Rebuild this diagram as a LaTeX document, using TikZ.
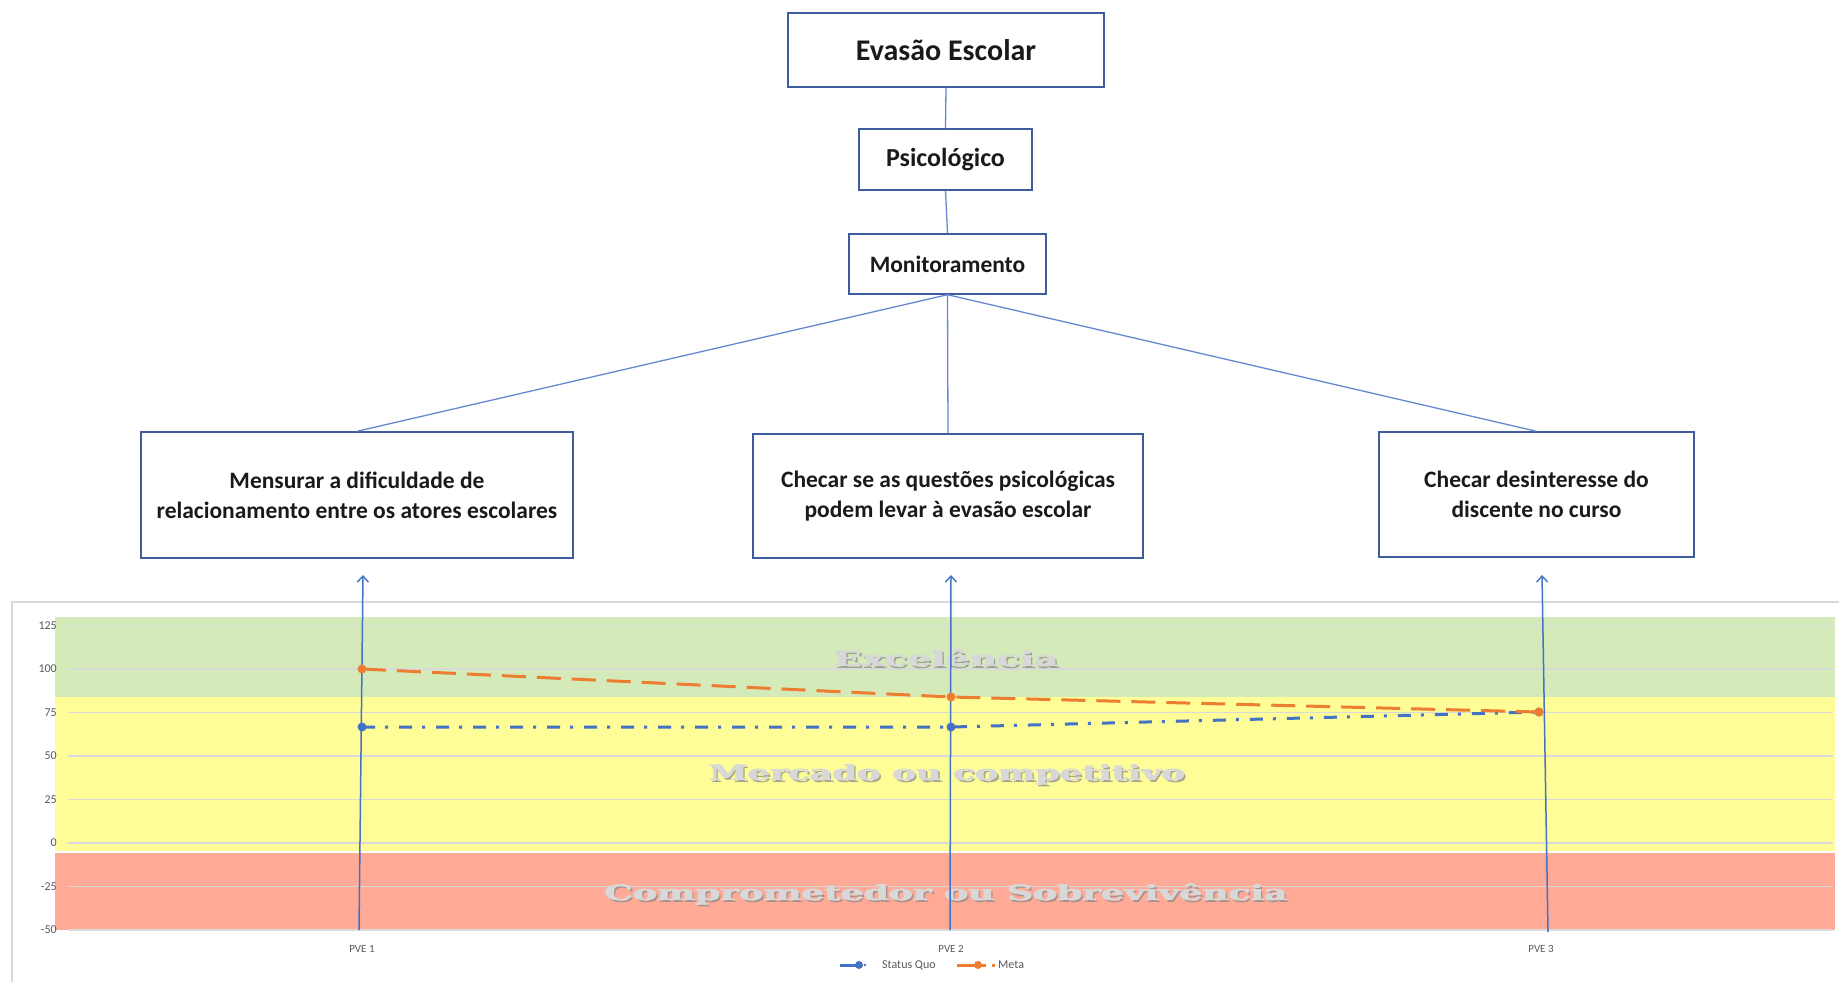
\documentclass[tikz,border=0pt]{standalone}
\usepackage{fontspec}
\setmainfont{Carlito}
\newfontfamily\bandfont{DejaVu Serif}
\usetikzlibrary{arrows.meta}

\definecolor{boxblue}{HTML}{3E5C9E}
\definecolor{linkblue}{HTML}{6688D0}
\definecolor{seriesblue}{HTML}{4472C4}
\definecolor{seriesorange}{HTML}{ED7D31}
\definecolor{gridgray}{HTML}{D9D9D9}
\definecolor{axisgray}{HTML}{595959}
\definecolor{bandgreen}{HTML}{D5EAB9}
\definecolor{bandyellow}{HTML}{FEFD97}
\definecolor{bandred}{HTML}{FEAA97}
\definecolor{inktext}{HTML}{1A1A1A}
\definecolor{embossface}{HTML}{D8D8D8}
\definecolor{embossshade}{HTML}{8A8A8A}

\tikzset{
  treebox/.style={draw=boxblue, line width=1.4pt, fill=white, text=inktext,
    inner sep=0pt, align=center},
  goalbox/.style={treebox, font=\fontsize{23.5pt}{30pt}\selectfont\bfseries},
  link/.style={draw=linkblue, line width=1.3pt},
  uparrow/.style={draw=seriesblue, line width=1.5pt,
    -{Straight Barb[length=6pt,width=11pt,line width=1.4pt]}},
  gridline/.style={draw=gridgray, line width=1.5pt},
  ticklabel/.style={anchor=east, text=axisgray, inner sep=0pt,
    font=\fontsize{12pt}{12pt}\selectfont},
  catlabel/.style={text=axisgray, inner sep=0pt,
    font=\fontsize{11pt}{11pt}\selectfont},
  legendlabel/.style={anchor=west, text=axisgray, inner sep=0pt,
    font=\fontsize{12pt}{12pt}\selectfont},
  bluedot/.style={circle, fill=seriesblue, inner sep=0pt, minimum size=9pt},
  orangedot/.style={circle, fill=seriesorange, inner sep=0pt, minimum size=9pt},
  statusline/.style={draw=seriesblue, line width=3pt,
    dash pattern=on 13pt off 10pt on 3pt off 11pt},
  metaline/.style={draw=seriesorange, line width=3pt,
    dash pattern=on 24pt off 11pt},
  bandface/.style={inner sep=0pt, text=embossface,
    font=\fontsize{21pt}{21pt}\selectfont\bandfont\bfseries},
  bandshade/.style={bandface, text=embossshade, opacity=0.75},
}

\newcommand{\stretchto}[2]{\resizebox{#1}{\height}{#2}}

% embossed band title: a shaded copy, then a face drawn three times for weight
\newcommand{\bandtitle}[4]{%
  \node[bandshade] (#1-s) at ({#2+2},{#3+2}) {\stretchto{#4}{\csname bandtext#1\endcsname}};
  \node[bandface] (#1-l) at ({#2-0.7},#3) {\stretchto{#4}{\csname bandtext#1\endcsname}};
  \node[bandface] (#1-r) at ({#2+0.7},#3) {\stretchto{#4}{\csname bandtext#1\endcsname}};
  \node[bandface] (#1) at (#2,#3) {\stretchto{#4}{\csname bandtext#1\endcsname}};
}
\newcommand{\bandtextexc}{Excelência}
\newcommand{\bandtextmer}{Mercado ou competitivo}
\newcommand{\bandtextcom}{Comprometedor ou Sobrevivência}

\begin{document}
\begin{tikzpicture}[x=1pt, y=-1pt]
\useasboundingbox (0,0) rectangle (1839,982);
\fill[white] (0,0) rectangle (1839,982);

% ---------- hierarchy ----------
\node[treebox, minimum width=316pt, minimum height=74pt,
  font=\fontsize{30pt}{30pt}\selectfont\bfseries] (evasao) at (946,50) {Evasão Escolar};
\node[treebox, minimum width=173pt, minimum height=61pt,
  font=\fontsize{26pt}{26pt}\selectfont\bfseries] (psico) at (945.5,159.5) {Psicológico};
\node[treebox, minimum width=197pt, minimum height=60pt,
  font=\fontsize{23.5pt}{23.5pt}\selectfont\bfseries] (monit) at (947.5,264) {Monitoramento};

\node[goalbox, minimum width=432pt, minimum height=126pt] (g1) at (357,495)
  {Mensurar a dificuldade de\\relacionamento entre os atores escolares};
\node[goalbox, minimum width=390pt, minimum height=124pt] (g2) at (948,496)
  {Checar se as questões psicológicas\\podem levar à evasão escolar};
\node[goalbox, minimum width=315pt, minimum height=125pt] (g3) at (1536.5,494.5)
  {Checar desinteresse do\\discente no curso};

\draw[link] (evasao.south) -- (psico.north);
\draw[link] (psico.south) -- (monit.north);
\draw[link] (monit.south) -- (g1.north);
\draw[link] (monit.south) -- (g2.north);
\draw[link] (monit.south) -- (g3.north);

% ---------- chart frame ----------
\draw[gridline] (12,982) -- (12,602) -- (1839,602);

% performance bands
\fill[bandgreen]  (55,617) rectangle (1835,697);
\fill[bandyellow] (55,697) rectangle (1835,851);
\fill[bandred]    (55,852.5) rectangle (1835,930);

% horizontal grid and value axis
\foreach \v in {125,100,75,50,25,0,-25,-50} {
  \draw[gridline] (68,{843-1.74*\v}) -- (1833,{843-1.74*\v});
  \node[ticklabel] (tick\v) at (57,{843-1.74*\v}) {\v};
}

% band titles
\bandtitle{exc}{946}{658}{225pt}
\bandtitle{mer}{947}{775}{476pt}
\bandtitle{com}{946}{894}{683pt}

% category labels
\node[catlabel] (pve1) at (362,949) {PVE 1};
\node[catlabel] (pve2) at (951,949) {PVE 2};
\node[catlabel] (pve3) at (1541,949) {PVE 3};

% arrows from the categories up to the goals
\coordinate (b1) at (359,930);  \coordinate (t1) at (363,575);
\coordinate (b2) at (950,930);  \coordinate (t2) at (951,575);
\coordinate (b3) at (1548,932); \coordinate (t3) at (1542,575);
\draw[uparrow] (b1) -- (t1);
\draw[uparrow] (b2) -- (t2);
\draw[uparrow] (b3) -- (t3);

% series: Status Quo
\node[bluedot] (s1) at (362,727) {};
\node[bluedot] (s2) at (951,727) {};
\node[bluedot] (s3) at (1539,712) {};
\draw[statusline] (s1.center) -- (s2.center) -- (s3.center);

% series: Meta
\draw[metaline] (362,669) -- (951,697) -- (1539,712);
\node[orangedot] (m1) at (362,669) {};
\node[orangedot] (m2) at (951,697) {};
\node[orangedot] (m3) at (1539,712) {};

% legend
\draw[seriesblue, line width=3pt] (840,965) -- (856,965);
\fill[seriesblue] (859,965) circle (4pt);
\fill[seriesblue] (865,965) circle (1.4pt);
\node[legendlabel] (lg1) at (882,965) {Status Quo};
\draw[seriesorange, line width=3pt] (957,965) -- (986,965);
\fill[seriesorange] (978,965) circle (4pt);
\fill[seriesorange] (992,963.5) rectangle (995,966.5);
\node[legendlabel] (lg2) at (998,965) {Meta};
\end{tikzpicture}
\end{document}
